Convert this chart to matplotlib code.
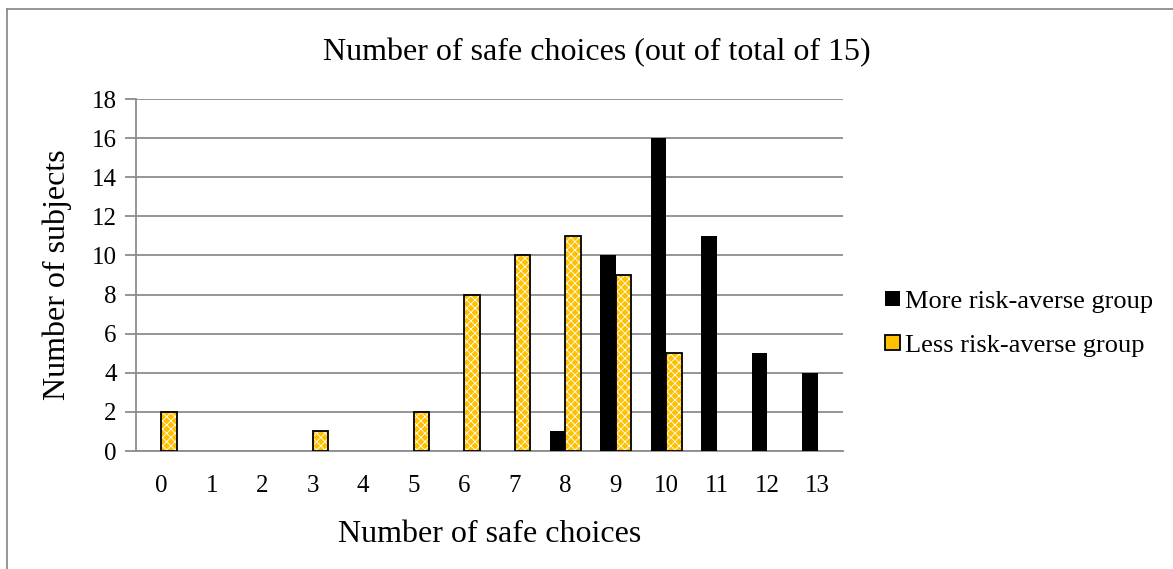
import numpy as np
import matplotlib
matplotlib.use('Agg')
from matplotlib import pyplot as plt
from matplotlib.lines import Line2D

plt.rcParams['font.family'] = ['Liberation Serif', 'DejaVu Serif']
plt.rcParams['hatch.linewidth'] = 0.6

# data
choices = list(range(14))
more_averse = [0, 0, 0, 0, 0, 0, 0, 0, 1, 10, 16, 11, 5, 4]
less_averse = [2, 0, 0, 1, 0, 2, 8, 10, 11, 9, 5, 0, 0, 0]

fig = plt.figure(figsize=(11.73, 5.69), dpi=100)
ax = fig.add_axes([136/1173, 1 - 451/569, 707/1173, 352/569])

x = np.arange(len(choices))
w = 0.31
gold = '#FFC000'
ax.bar(x - w/2, more_averse, w, color='black', linewidth=0, zorder=3)
# hatch takes the edge colour, so fill with white hatch first, outline after
ax.bar(x + w/2, less_averse, w, color=gold, edgecolor='white', linewidth=0,
       hatch='xxxx', zorder=3)
nz = [i for i in x if less_averse[i] > 0]
ax.bar([i + w/2 for i in nz], [less_averse[i] for i in nz], w, fill=False,
       edgecolor='black', linewidth=1.3, zorder=4)

ax.set_xlim(-0.5, len(choices) - 0.5)
ax.set_ylim(0, 18)
ax.set_yticks(range(0, 19, 2))
ax.set_xticks(x)
ax.set_xticklabels([str(c) for c in choices])
ax.yaxis.grid(True, color='#8c8c8c', linewidth=1.3, zorder=0)
for s in ['top', 'right']:
    ax.spines[s].set_visible(False)
for s in ['left', 'bottom']:
    ax.spines[s].set_color('#8c8c8c')
    ax.spines[s].set_linewidth(1.3)
ax.tick_params(axis='y', length=8, color='#8c8c8c', width=1.3, labelsize=18, pad=6)
ax.tick_params(axis='x', length=0, labelsize=18, pad=17)

ax.set_xlabel('Number of safe choices', fontsize=23, labelpad=17)
ax.set_ylabel('Number of subjects', fontsize=23)
ax.yaxis.set_label_coords(-0.09, 0.5)
fig.text(0.509, 0.908, 'Number of safe choices (out of total of 15)', fontsize=23,
         ha='center', va='center')

# legend handles drawn like the bars
h1 = plt.Rectangle((0, 0), 1, 1, facecolor='black', linewidth=0)
h2 = plt.Rectangle((0, 0), 1, 1, facecolor=gold, edgecolor='black', linewidth=1.3)
fig.legend([h1, h2], ['More risk-averse group', 'Less risk-averse group'],
           loc='center left', bbox_to_anchor=(885/1173, 1 - 324/569), frameon=False,
           fontsize=19, borderpad=0, borderaxespad=0, handlelength=0.57,
           handleheight=0.5, handletextpad=0.2, labelspacing=0.85)

# chart border
fig.add_artist(Line2D([7/1173, 7/1173], [0, 1 - 9/569], color='#8c8c8c', lw=1.3))
fig.add_artist(Line2D([7/1173, 1], [1 - 9/569, 1 - 9/569], color='#8c8c8c', lw=1.3))

fig.savefig('out.png', dpi=100)
